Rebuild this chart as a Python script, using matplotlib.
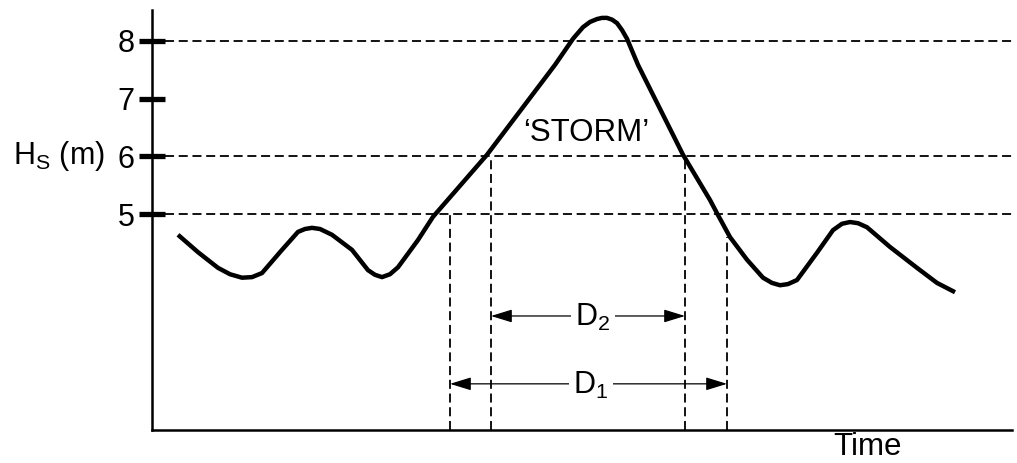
import matplotlib
matplotlib.use("Agg")
import matplotlib.pyplot as plt

plt.rcParams['font.family'] = ['Liberation Sans', 'DejaVu Sans']
plt.rcParams['mathtext.fontset'] = 'custom'
plt.rcParams['mathtext.rm'] = 'Liberation Sans'
plt.rcParams['mathtext.it'] = 'Liberation Sans'

# ---- data ----
time = [2.6, 4.6, 6.6, 7.8, 9.0, 10.0, 11.0, 13.0, 14.6, 15.3, 16.0, 16.8,
        18.0, 20.0, 21.6, 22.3, 23.0, 23.8, 24.6, 26.6, 28.1, 33.5, 40.3,
        42.1, 43.1, 43.8, 44.5, 45.0, 45.5, 46.0, 46.5, 47.0, 47.5,
        48.6, 53.1, 55.8, 56.6, 57.8, 59.5, 61.1, 62.0, 62.8, 63.6, 64.5,
        66.5, 68.1, 69.0, 69.8, 70.6, 71.5, 73.8, 76.5, 78.5, 80.3]
hs = [4.65, 4.35, 4.08, 3.97, 3.91, 3.92, 3.99, 4.39, 4.70, 4.75, 4.77, 4.75,
      4.65, 4.39, 4.04, 3.96, 3.92, 3.97, 4.09, 4.56, 4.96, 6.03, 7.58,
      8.03, 8.23, 8.32, 8.37, 8.39, 8.39, 8.36, 8.30, 8.18, 8.03,
      7.58, 6.03, 5.25, 4.99, 4.61, 4.22, 3.91, 3.82, 3.78, 3.80, 3.87,
      4.34, 4.73, 4.84, 4.87, 4.85, 4.78, 4.44, 4.08, 3.82, 3.66]

ytick_values = [5, 6, 7, 8]
ytick_labels = ['5', '6', '7', '8']
threshold_levels = [8, 6, 5]

# duration markers
d2_bounds = [33.9, 53.3]
d2_tops = [6.0, 6.0]
d2_arrow_y = 3.25
d1_bounds = [29.8, 57.5]
d1_tops = [5.0, 4.62]
d1_arrow_y = 2.08

x_min, x_max = 0, 86
y_min, y_max = 1.284, 8.526

# ---- figure ----
fig = plt.figure(figsize=(10.17, 4.63), dpi=100)
ax = fig.add_axes([152/1017, 33/463, 860/1017, 420/463])
ax.set_xlim(x_min, x_max)
ax.set_ylim(y_min, y_max)

for s in ['top', 'right']:
    ax.spines[s].set_visible(False)
for s in ['left', 'bottom']:
    ax.spines[s].set_linewidth(1.8)

ax.set_xticks([])
ax.set_yticks(ytick_values)
ax.set_yticklabels(ytick_labels, fontsize=22)
ax.tick_params(axis='y', direction='inout', length=19, width=3.8, pad=3)

dash = (0, (5, 2.6))
dlw = 1.3
for lev in threshold_levels:
    ax.plot([1.3, x_max], [lev, lev], color='black', lw=dlw, linestyle=dash, zorder=1)

for xb, top in zip(d2_bounds, d2_tops):
    ax.plot([xb, xb], [y_min, top], color='black', lw=dlw, linestyle=dash, zorder=1)
for xb, top in zip(d1_bounds, d1_tops):
    ax.plot([xb, xb], [y_min, top], color='black', lw=dlw, linestyle=dash, zorder=1)

ax.plot(time, hs, color='black', lw=3.2, solid_joinstyle='round',
        solid_capstyle='butt', zorder=3)

arrow_kw = dict(arrowstyle='<|-|>,head_length=0.65,head_width=0.2',
                color='black', lw=0.9, shrinkA=0, shrinkB=0, mutation_scale=20)
ax.annotate('', xy=(d2_bounds[0], d2_arrow_y), xytext=(d2_bounds[1], d2_arrow_y),
            arrowprops=arrow_kw, zorder=2)
ax.annotate('', xy=(d1_bounds[0], d1_arrow_y), xytext=(d1_bounds[1], d1_arrow_y),
            arrowprops=arrow_kw, zorder=2)

bbox = dict(facecolor='white', edgecolor='none', pad=3)
ax.text(44.1, d2_arrow_y - 0.03, r'$\mathrm{D_2}$', fontsize=22, ha='center', va='center',
        bbox=bbox, zorder=4)
ax.text(43.9, d1_arrow_y - 0.03, r'$\mathrm{D_1}$', fontsize=22, ha='center', va='center',
        bbox=bbox, zorder=4)

ax.text(43.4, 6.41, '\u2018STORM\u2019', fontsize=22.5, ha='center', va='center', zorder=4)

fig.text(13/1017, 1 - 156/463, r'$\mathrm{H_S}$ (m)', fontsize=22, ha='left', va='center')
fig.text(867/1017, 1 - 447/463, 'Time', fontsize=22.5, ha='center', va='center')

fig.savefig('out.png', dpi=100)
